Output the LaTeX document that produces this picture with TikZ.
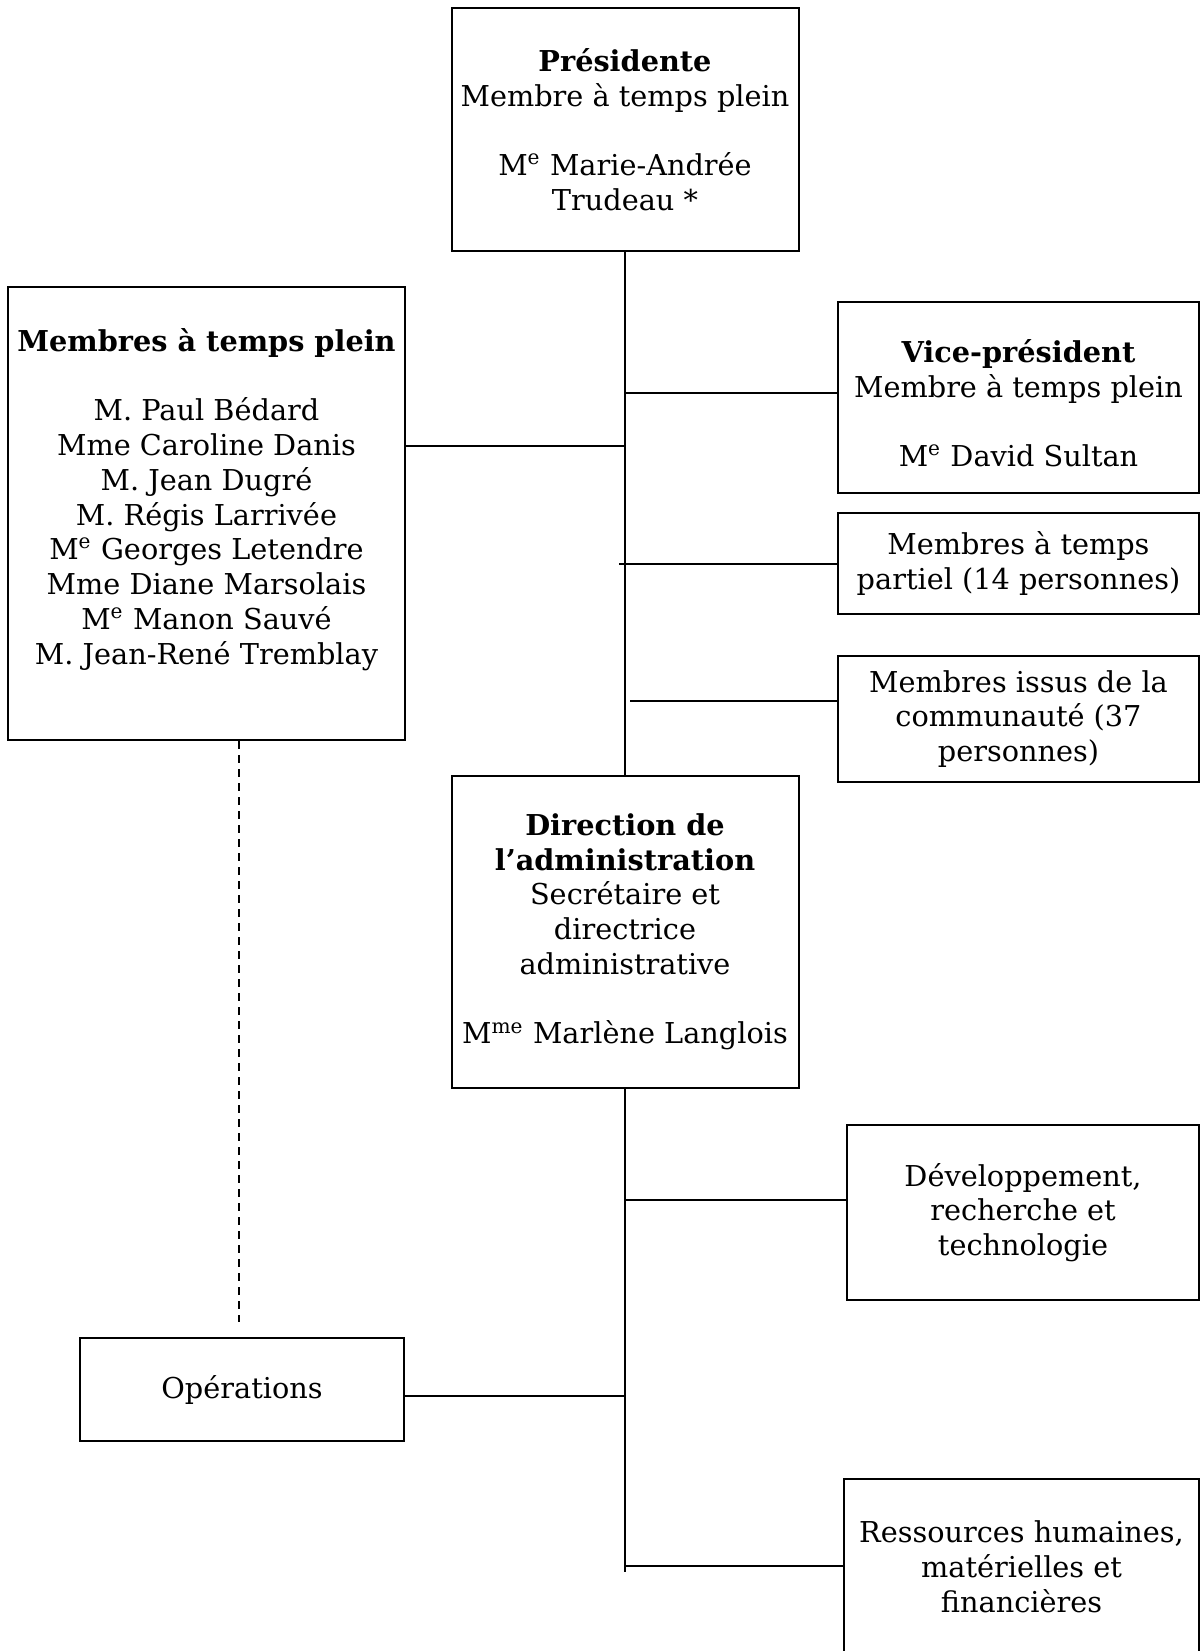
\documentclass[tikz,border=0pt]{standalone}
\usepackage{fontspec}
\setmainfont{DejaVu Serif}
\usepackage{tikz}

\begin{document}
\begin{tikzpicture}[x=0.4pt,y=-0.4pt]
\useasboundingbox (0,0) rectangle (1201,1651);

\begin{scope}[every node/.style={draw,line width=0.8pt,align=center,inner sep=0pt,
font=\fontsize{11.5pt}{13.9pt}\selectfont}]
\node[minimum width=138.8pt,minimum height=97.2pt] (Pres) at (625,129.5)
 {\textbf{Présidente}\\Membre à temps plein\\[13.9pt]M\textsuperscript{e} Marie-Andrée\\Trudeau *};
\node[minimum width=158.8pt,minimum height=181.2pt] (MTP) at (206.5,513.5)
 {\textbf{Membres à temps plein}\\[13.9pt]M. Paul Bédard\\Mme Caroline Danis\\M. Jean Dugré\\M. Régis Larrivée\\
 M\textsuperscript{e} Georges Letendre\\Mme Diane Marsolais\\M\textsuperscript{e} Manon Sauvé\\M. Jean-René Tremblay\\\mbox{}};
\node[minimum width=144.4pt,minimum height=76.4pt] (VP) at (1018.5,397.5)
 {\mbox{}\\\textbf{Vice-président}\\Membre à temps plein\\[13.9pt]M\textsuperscript{e} David Sultan};
\node[minimum width=144.4pt,minimum height=40.4pt] (TP) at (1018.5,563.5)
 {Membres à temps\\partiel (14 personnes)};
\node[minimum width=144.4pt,minimum height=50.4pt] (Comm) at (1018.5,719)
 {Membres issus de la\\communauté (37\\personnes)};
\node[minimum width=138.8pt,minimum height=124.8pt] (Dir) at (625,932)
 {\textbf{Direction de}\\\textbf{l’administration}\\Secrétaire et\\directrice\\administrative\\[13.9pt]M\textsuperscript{me} Marlène Langlois};
\node[minimum width=140.8pt,minimum height=70pt] (Dev) at (1023,1212.5)
 {Développement,\\recherche et\\technologie};
\node[minimum width=129.6pt,minimum height=41.2pt] (Ops) at (242,1389.5)
 {Opérations};
\node[minimum width=142pt,minimum height=70.4pt] (RH) at (1021.5,1567)
 {Ressources humaines,\\matérielles et\\financières};
\end{scope}

\begin{scope}[every edge/.style={draw,line width=0.6pt}]
\coordinate (jMTP) at (625,446);
\coordinate (jVP) at (625,393);
\coordinate (jTP) at (619,564);
\coordinate (jComm) at (630,701);
\coordinate (jDev) at (625,1200);
\coordinate (jOps) at (625,1396);
\coordinate (jRH) at (625,1566);
\coordinate (tEnd) at (625,1572);
\coordinate (dEnd) at (239,1322);
\path (Pres) edge (Dir);
\path (Dir) edge (tEnd);
\path (jMTP) edge (jMTP -| MTP.east);
\path (jVP) edge (jVP -| VP.west);
\path (jTP) edge (jTP -| TP.west);
\path (jComm) edge (jComm -| Comm.west);
\path (jDev) edge (jDev -| Dev.west);
\path (jOps) edge (jOps -| Ops.east);
\path (jRH) edge (jRH -| RH.west);
\path (dEnd |- MTP.south) edge[dashed,dash pattern=on 3.2pt off 2.4pt] (dEnd);
\end{scope}
\end{tikzpicture}
\end{document}
